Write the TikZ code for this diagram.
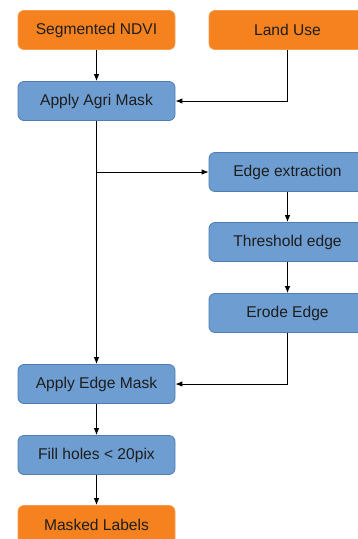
\documentclass[tikz,border=0pt]{standalone}
\usepackage{fontspec}
\setmainfont{Liberation Sans}
\usetikzlibrary{arrows.meta}
\definecolor{srcorange}{HTML}{F5821F}
\definecolor{srcorangeedge}{HTML}{F79A4A}
\definecolor{stepblue}{HTML}{6D9DD1}
\definecolor{stepblueedge}{HTML}{4F7DB3}
\definecolor{inktext}{HTML}{1E1E1E}
\begin{document}
\begin{tikzpicture}[x=1pt,y=-1pt,
  box/.style={rounded corners=6pt, minimum width=157pt, minimum height=39pt,
    inner sep=0pt, font=\fontsize{15.6}{18}\selectfont, text=inktext, line width=0.8pt},
  iobox/.style={box, fill=srcorange, draw=srcorangeedge},
  stepbox/.style={box, fill=stepblue, draw=stepblueedge},
  link/.style={draw=black, line width=0.9pt, -{Latex[length=7pt,width=5.5pt]}}]
  \useasboundingbox (0,0) rectangle (357,539);
  % input data
  \node[iobox]   (ndvi)  at (96.5,30)   {Segmented NDVI};
  \node[iobox]   (land)  at (287.5,30)  {Land Use};
  % main processing chain
  \node[stepbox] (agri)  at (96.5,101)  {Apply Agri Mask};
  \node[stepbox] (edge)  at (287.5,172) {Edge extraction};
  \node[stepbox] (thr)   at (287.5,242) {Threshold edge};
  \node[stepbox] (erode) at (287.5,313) {Erode Edge};
  \node[stepbox] (emask) at (96.5,384)  {Apply Edge Mask};
  \node[stepbox] (fill)  at (96.5,455)  {Fill holes < 20pix};
  \node[iobox]   (out)   at (96.5,525)  {Masked Labels};
  % connectors
  \coordinate (split) at (agri.south |- edge.west);
  \draw[link] (ndvi) -- (agri);
  \draw[link] (land.south) |- (agri.east);
  \draw[link] (agri.south) -- (emask.north);
  \draw[link] (split) -- (edge.west);
  \draw[link] (edge) -- (thr);
  \draw[link] (thr) -- (erode);
  \draw[link] (erode.south) |- (emask.east);
  \draw[link] (emask) -- (fill);
  \draw[link] (fill) -- (out);
\end{tikzpicture}
\end{document}
